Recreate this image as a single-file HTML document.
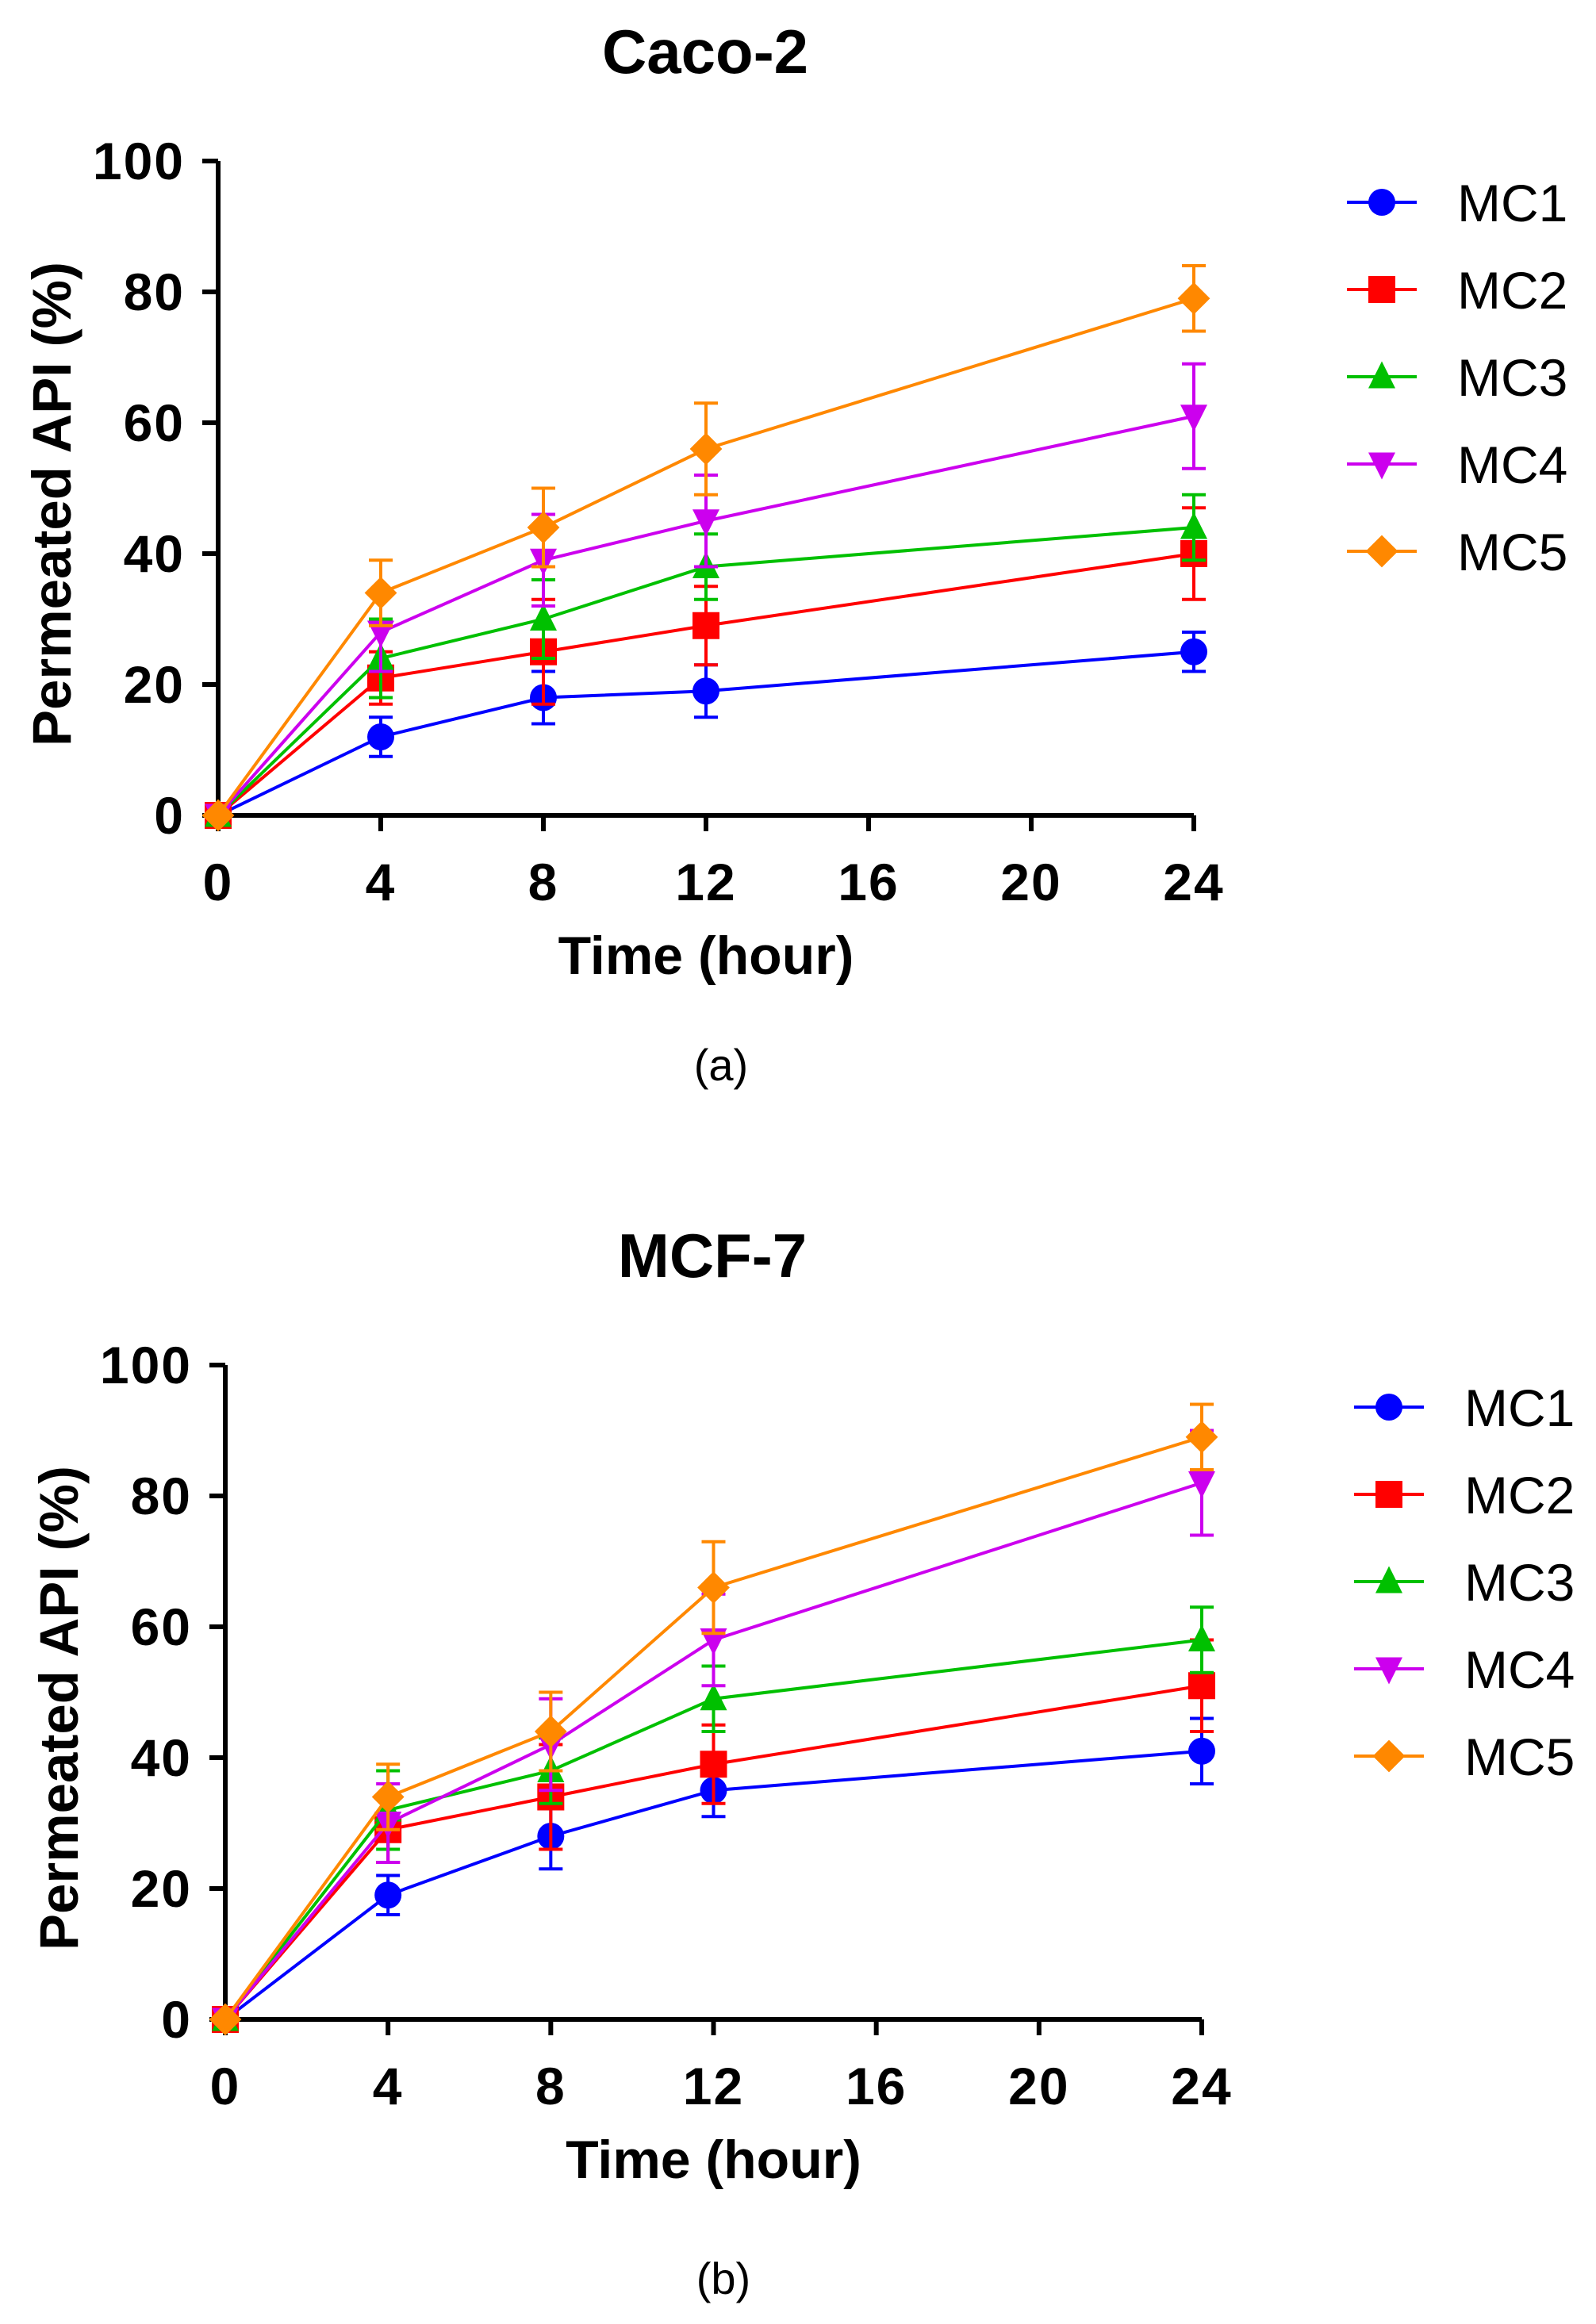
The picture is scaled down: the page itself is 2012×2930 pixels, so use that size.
<!DOCTYPE html>
<html><head><meta charset="utf-8"><style>
html,body{margin:0;padding:0;background:#fff;}
svg{display:block;font-family:"Liberation Sans",Arial,sans-serif;}
</style></head><body>
<svg id="fig" width="2012" height="2930" viewBox="0 0 2012 2930" xmlns="http://www.w3.org/2000/svg"></svg>
<script>
const xValues = [0, 4, 8, 12, 24];
const xTicks = [0, 4, 8, 12, 16, 20, 24];
const yTicks = [0, 20, 40, 60, 80, 100];
const seriesNames = ["MC1", "MC2", "MC3", "MC4", "MC5"];
const seriesColors = ["#0000FF", "#FF0000", "#00C000", "#CC00EE", "#FF8800"];
const seriesMarkers = ["circle", "square", "triangle", "tridown", "diamond"];
const cacoMC1 = [0, 12, 18, 19, 25];
const cacoMC2 = [0, 21, 25, 29, 40];
const cacoMC3 = [0, 24, 30, 38, 44];
const cacoMC4 = [0, 28, 39, 45, 61];
const cacoMC5 = [0, 34, 44, 56, 79];
const cacoErr1 = [0, 3, 4, 4, 3];
const cacoErr2 = [0, 4, 8, 6, 7];
const cacoErr3 = [0, 6, 6, 5, 5];
const cacoErr4 = [0, 6, 7, 7, 8];
const cacoErr5 = [0, 5, 6, 7, 5];
const mcfMC1 = [0, 19, 28, 35, 41];
const mcfMC2 = [0, 29, 34, 39, 51];
const mcfMC3 = [0, 32, 38, 49, 58];
const mcfMC4 = [0, 30, 42, 58, 82];
const mcfMC5 = [0, 34, 44, 66, 89];
const mcfErr1 = [0, 3, 5, 4, 5];
const mcfErr2 = [0, 5, 8, 6, 7];
const mcfErr3 = [0, 6, 5, 5, 5];
const mcfErr4 = [0, 6, 7, 7, 8];
const mcfErr5 = [0, 5, 6, 7, 5];

const NS = "http://www.w3.org/2000/svg";
const svg = document.getElementById("fig");
function mk(tag, attrs, parent) {
  const e = document.createElementNS(NS, tag);
  for (const k in attrs) e.setAttribute(k, attrs[k]);
  (parent || svg).appendChild(e);
  return e;
}
function marker(g, type, cx, cy, color, s) {
  let e;
  if (type === "circle") e = mk("circle", {cx: cx, cy: cy, r: s, fill: color}, g);
  else if (type === "square") e = mk("rect", {x: cx - s, y: cy - s, width: 2 * s, height: 2 * s, fill: color}, g);
  else if (type === "triangle") e = mk("polygon", {points: `${cx},${cy - s * 1.15} ${cx - s},${cy + s * 0.85} ${cx + s},${cy + s * 0.85}`, fill: color}, g);
  else if (type === "tridown") e = mk("polygon", {points: `${cx},${cy + s * 1.15} ${cx - s},${cy - s * 0.85} ${cx + s},${cy - s * 0.85}`, fill: color}, g);
  else e = mk("polygon", {points: `${cx},${cy - s * 1.2} ${cx + s * 1.2},${cy} ${cx},${cy + s * 1.2} ${cx - s * 1.2},${cy}`, fill: color}, g);
  return e;
}
function drawChart(cfg) {
  const g = mk("g", {});
  
  
  const xs = v => cfg.x0 + (cfg.x24 - cfg.x0) * v / 24;
  const ys = v => cfg.y0 + (cfg.y100 - cfg.y0) * v / 100;
  const t = mk("text", {x: cfg.titleX, y: cfg.titleY, "font-size": 78, "font-weight": "bold", "text-anchor": "middle"}, g);
  t.textContent = cfg.title;
  
  
  const ax = mk("path", {d: `M${cfg.x0},${ys(100)} L${cfg.x0},${cfg.y0} L${xs(24)},${cfg.y0}`, stroke: "#000", "stroke-width": 6, fill: "none"}, g);
  
  
  yTicks.forEach(v => {
    const y = ys(v);
    mk("line", {x1: cfg.x0 - 20, x2: cfg.x0, y1: y, y2: y, stroke: "#000", "stroke-width": 6}, g);
    const tl = mk("text", {x: cfg.x0 - 42, y: y + 23, "font-size": 66, "font-weight": "bold", "text-anchor": "end", "letter-spacing": 2}, g);
    tl.textContent = v;
    
    
  });
  xTicks.forEach(v => {
    const x = xs(v);
    mk("line", {x1: x, x2: x, y1: cfg.y0, y2: cfg.y0 + 20, stroke: "#000", "stroke-width": 6}, g);
    const tl = mk("text", {x: x, y: cfg.y0 + 107, "font-size": 66, "font-weight": "bold", "text-anchor": "middle", "letter-spacing": 2}, g);
    tl.textContent = v;
    
    
  });
  const xl = mk("text", {x: (cfg.x0 + xs(24)) / 2, y: cfg.y0 + 200, "font-size": 68, "font-weight": "bold", "text-anchor": "middle"}, g);
  xl.textContent = "Time (hour)";
  
  
  const ylx = cfg.x0 - 186, yly = (cfg.y0 + ys(100)) / 2 + 20;
  const yl = mk("text", {x: ylx, y: yly, "font-size": 69, "font-weight": "bold", "text-anchor": "middle", transform: `rotate(-90 ${ylx} ${yly})`}, g);
  yl.textContent = "Permeated API (%)";
  
  
  cfg.data.forEach((vals, si) => {
    const col = seriesColors[si];
    const sg = mk("g", {}, g);
    
    
    const errs = cfg.errs[si];
    vals.forEach((v, i) => {
      if (!errs[i]) return;
      const x = xs(xValues[i]);
      const y1 = ys(v + errs[i]), y2 = ys(v - errs[i]);
      mk("line", {x1: x, x2: x, y1: y1, y2: y2, stroke: col, "stroke-width": 4}, sg);
      mk("line", {x1: x - 15, x2: x + 15, y1: y1, y2: y1, stroke: col, "stroke-width": 4}, sg);
      mk("line", {x1: x - 15, x2: x + 15, y1: y2, y2: y2, stroke: col, "stroke-width": 4}, sg);
    });
    const pts = vals.map((v, i) => xs(xValues[i]) + "," + ys(v)).join(" ");
    const pl = mk("polyline", {points: pts, fill: "none", stroke: col, "stroke-width": 4}, sg);
    
    
    vals.forEach((v, i) => {
      const m = marker(sg, seriesMarkers[si], xs(xValues[i]), ys(v), col, 17);
      
      
    });
  });
  const lg = mk("g", {}, g);
  
  
  seriesNames.forEach((n, si) => {
    const y = cfg.legY + si * 110;
    const eg = mk("g", {}, lg);
    
    
    mk("line", {x1: cfg.legX - 44, x2: cfg.legX + 44, y1: y, y2: y, stroke: seriesColors[si], "stroke-width": 4}, eg);
    marker(eg, seriesMarkers[si], cfg.legX, y, seriesColors[si], 17);
    const lt = mk("text", {x: cfg.legX + 95, y: y + 24, "font-size": 66}, eg);
    lt.textContent = n;
  });
  const cap = mk("text", {x: cfg.capX, y: cfg.capY, "font-size": 56, "text-anchor": "middle"}, g);
  cap.textContent = cfg.caption;
  
  
}
drawChart({name: "chart-caco2", title: "Caco-2", titleX: 889, titleY: 92, x0: 275, x24: 1505, y100: 203, y0: 1028,
  data: [cacoMC1, cacoMC2, cacoMC3, cacoMC4, cacoMC5], errs: [cacoErr1, cacoErr2, cacoErr3, cacoErr4, cacoErr5],
  legX: 1742, legY: 255, capX: 909, capY: 1362, caption: "(a)"});
drawChart({name: "chart-mcf7", title: "MCF-7", titleX: 898, titleY: 1610, x0: 284, x24: 1515, y100: 1721, y0: 2546,
  data: [mcfMC1, mcfMC2, mcfMC3, mcfMC4, mcfMC5], errs: [mcfErr1, mcfErr2, mcfErr3, mcfErr4, mcfErr5],
  legX: 1751, legY: 1774, capX: 912, capY: 2892, caption: "(b)"});
</script>
</body></html>
